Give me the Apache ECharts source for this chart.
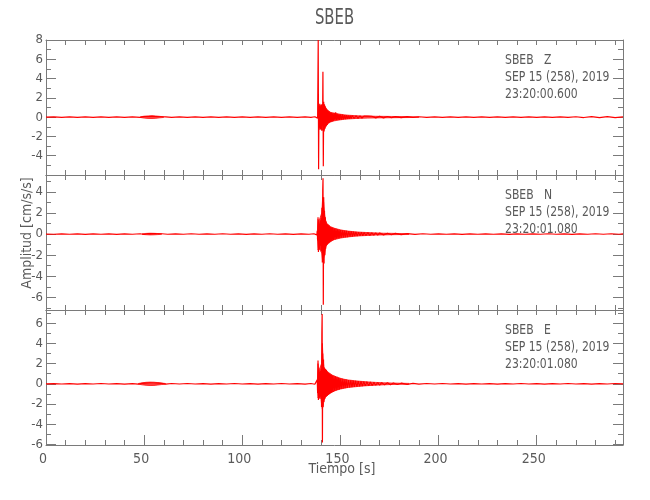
<!DOCTYPE html>
<html>
<head>
<meta charset="utf-8">
<script src="https://cdn.jsdelivr.net/npm/echarts@6/dist/echarts.min.js"></script>
<style>html,body{margin:0;padding:0;background:#fff}#c{width:650px;height:500px}</style>
</head>
<body>
<div id="c"></div>
<script>
// ---- data ----
const chartTitle = 'SBEB';
const stationLabels = ['SBEB   Z', 'SBEB   N', 'SBEB   E'];
const dateLabels = ['SEP 15 (258), 2019', 'SEP 15 (258), 2019', 'SEP 15 (258), 2019'];
const timeLabels = ['23:20:00.600', '23:20:01.080', '23:20:01.080'];
const yName = 'Amplitud [cm/s/s]';
const xName = 'Tiempo [s]';

const xRange = [0, 294];
const xMajorTicks = [0, 50, 100, 150, 200, 250];
const xMinorTicks = [10,20,30,40,60,70,80,90,110,120,130,140,160,170,180,190,210,220,230,240,260,270,280,290];
const xAllTicks = [0,10,20,30,40,50,60,70,80,90,100,110,120,130,140,150,160,170,180,190,200,210,220,230,240,250,260,270,280,290];

const yRanges = [[-6, 8], [-7.2, 5.6], [-6.05, 7.3]];
const yMajorTicks = [[-6,-4,-2,0,2,4,6,8], [-6,-4,-2,0,2,4], [-6,-4,-2,0,2,4,6]];
const yMinorTicks = [[-5,-3,-1,1,3,5,7], [-7,-5,-3,-1,1,3,5], [-5,-3,-1,1,3,5,7]];
const yTickLabels = [[-4,-2,0,2,4,6,8], [-6,-4,-2,0,2,4], [-6,-4,-2,0,2,4,6]];

// trace Z  [time s, amplitude cm/s/s]
const traceZ = [
 [0,0],[4,0.02],[8,-0.02],[12,0.03],[16,-0.02],[20,0.02],[24,-0.03],[28,0.02],[32,-0.02],[36,0.03],[40,-0.02],[44,0.03],
 [48,-0.03],[50,0.05],[51,-0.06],[52,0.06],[53,-0.06],[54,0.07],[55,-0.07],[56,0.06],[57,-0.05],[58,0.04],[59,-0.03],
 [61,0.03],[64,-0.03],[68,0.02],[72,-0.02],[76,0.03],[80,-0.02],[84,0.02],[88,-0.03],[92,0.02],[96,-0.02],[100,0.03],
 [104,-0.02],[108,0.02],[112,-0.03],[116,0.02],[120,-0.02],[124,0.03],[128,-0.02],[132,0.02],[135,-0.03],[137,0.04],[138.4,-0.1],
 [138.7,8.0],[138.9,-5.4],[139.1,1.2],[139.3,-1.0],[139.5,1.4],[139.7,-1.3],[139.9,1.1],[140.1,-1.2],[140.3,1.3],[140.5,-1.4],
 [140.7,1.0],[140.9,-0.9],[141.1,4.7],[141.3,-5.1],[141.5,1.6],[141.7,-1.5],[141.9,1.3],[142.1,-1.2],[142.3,1.1],[142.5,-1.0],
 [142.7,0.9],[142.9,-0.9],[143.1,0.8],[143.3,-0.8],[143.6,0.7],[143.9,-0.6],[144.2,0.6],[144.5,-0.55],[144.8,0.5],[145.1,-0.5],
 [145.4,0.45],[145.7,-0.45],[146,0.4],[146.4,-0.4],[146.8,0.45],[147.2,-0.35],[147.6,0.5],[148,-0.3],[148.4,0.35],[148.8,-0.3],
 [149.2,0.3],[149.6,-0.28],[150,0.3],[150.5,-0.25],[151,0.25],[151.5,-0.22],[152,0.22],[152.5,-0.2],[153,0.2],[153.5,-0.18],
 [154,0.18],[154.5,-0.17],[155,0.16],[155.5,-0.15],[156,0.15],[157,-0.14],[158,0.13],[159,-0.12],[160,0.12],[161,-0.11],
 [162,0.1],[163,-0.1],[164,0.1],[165,-0.09],[166,0.09],[168,-0.08],[170,0.08],[172,-0.07],[174,0.07],[176,-0.06],[178,0.06],
 [181,-0.05],[184,0.05],[187,-0.04],[190,0.04],[194,-0.03],[198,0.02],[202,-0.03],[206,0.02],[210,-0.02],[214,0.03],[218,-0.02],
 [222,0.02],[226,-0.03],[230,0.02],[234,-0.02],[238,0.03],[242,-0.02],[246,0.02],[250,-0.03],[254,0.02],[258,-0.02],[262,0.03],
 [266,-0.03],[270,0.04],[274,-0.04],[278,0.05],[282,-0.05],[286,0.06],[290,-0.05],[294,0.02]
];
// envelopes of the dense parts ('-' separates the small 55 s burst from the main event)
const envZ_t  = [48,50,52,54,56,58,60,100,138.9,139.5,140,140.5,141,141.5,142,142.5,143,143.5,144,145,146,147,148,150,152,154,157,160,164,168,172,176,180,185,190];
const envZ_up = [0.03,0.1,0.13,0.15,0.12,0.08,0.03,'-',1.1,1.3,1.2,1.2,1.3,1.4,1.2,1.0,0.8,0.7,0.6,0.5,0.42,0.4,0.35,0.3,0.24,0.2,0.16,0.13,0.11,0.09,0.08,0.07,0.06,0.05,0.04];
const envZ_lo = [-0.03,-0.1,-0.13,-0.14,-0.12,-0.07,-0.03,'-',-1.0,-1.2,-1.2,-1.3,-1.3,-1.4,-1.2,-1.0,-0.85,-0.7,-0.6,-0.5,-0.42,-0.38,-0.32,-0.28,-0.22,-0.19,-0.15,-0.12,-0.1,-0.08,-0.07,-0.06,-0.05,-0.04,-0.03];

// trace N
const traceN = [
 [0,0],[4,-0.02],[8,0.02],[12,-0.02],[16,0.02],[20,-0.03],[24,0.02],[28,-0.02],[32,0.02],[36,-0.03],[40,0.02],[44,-0.02],
 [48,0.03],[50,-0.04],[52,0.05],[53,-0.05],[54,0.05],[55,-0.05],[56,0.04],[57,-0.04],[59,0.03],
 [62,-0.02],[66,0.02],[70,-0.02],[74,0.03],[78,-0.02],[82,0.02],[86,-0.02],[90,0.03],[94,-0.02],[98,0.02],[102,-0.03],
 [106,0.02],[110,-0.02],[114,0.03],[118,-0.02],[122,0.02],[126,-0.03],[130,0.02],[134,-0.02],[136.5,0.03],[138.0,-0.08],
 [138.2,0.3],[138.4,-0.6],[138.6,1.6],[138.8,-1.7],[139.0,1.2],[139.2,-1.4],[139.4,1.0],[139.6,-1.5],[139.8,1.3],[140.0,-1.1],
 [140.2,1.5],[140.4,-1.6],[140.6,2.5],[140.8,-2.7],[141.0,4.2],[141.15,5.3],[141.3,-6.7],[141.5,3.5],[141.7,-2.8],[141.9,2.2],
 [142.1,-2.0],[142.3,1.6],[142.5,-1.4],[142.7,1.2],[142.9,-1.1],[143.1,1.0],[143.4,-1.0],[143.7,0.9],[144.0,-0.9],[144.3,0.8],
 [144.6,-0.8],[144.9,0.7],[145.2,-0.7],[145.5,0.65],[145.8,-0.6],[146.1,0.6],[146.5,-0.55],[146.9,0.55],[147.3,-0.5],[147.7,0.5],
 [148.1,-0.45],[148.5,0.45],[148.9,-0.4],[149.3,0.4],[149.7,-0.38],[150.1,0.38],[150.6,-0.35],[151.1,0.35],[151.6,-0.32],[152.1,0.32],
 [152.6,-0.3],[153.1,0.3],[153.7,-0.28],[154.3,0.27],[154.9,-0.25],[155.5,0.25],[156.1,-0.23],[156.7,0.22],[157.3,-0.2],[157.9,0.2],
 [158.6,-0.19],[159.3,0.18],[160,-0.17],[160.7,0.17],[161.4,-0.16],[162.1,0.15],[163,-0.14],[164,0.14],[165,-0.13],[166,0.12],
 [167,-0.11],[168,0.11],[169,-0.1],[170,0.1],[172,-0.08],[174,0.08],[176,-0.07],[178,0.06],[181,-0.05],[184,0.04],[188,-0.03],
 [192,0.03],[196,-0.02],[200,0.02],[204,-0.02],[208,0.02],[212,-0.03],[216,0.02],[220,-0.02],[224,0.02],[228,-0.02],[232,0.02],
 [236,-0.03],[240,0.02],[244,-0.02],[248,0.02],[252,-0.02],[256,0.03],[260,-0.02],[264,0.02],[268,-0.03],[272,0.02],[276,-0.02],
 [280,0.03],[284,-0.02],[288,0.03],[292,-0.02],[294,0.01]
];
const envN_t  = [49,51,53,55,57,59,100,138.3,138.6,139,139.5,140,140.5,141,141.5,142,142.5,143,144,145,146,147,148,150,152,154,157,160,164,168,172,176,180,185];
const envN_up = [0.03,0.06,0.08,0.07,0.05,0.02,'-',0.3,1.4,1.2,1.2,1.3,2.0,3.5,3.0,1.8,1.3,1.0,0.85,0.7,0.6,0.55,0.48,0.4,0.33,0.28,0.22,0.18,0.14,0.11,0.08,0.07,0.05,0.04];
const envN_lo = [-0.03,-0.06,-0.08,-0.07,-0.05,-0.02,'-',-0.4,-1.5,-1.3,-1.4,-1.2,-1.8,-2.6,-2.6,-1.9,-1.3,-1.0,-0.85,-0.7,-0.6,-0.52,-0.46,-0.38,-0.32,-0.27,-0.21,-0.17,-0.13,-0.1,-0.08,-0.06,-0.05,-0.04];

// trace E
const traceE = [
 [0,0],[4,0.02],[8,-0.02],[12,0.02],[16,-0.03],[20,0.02],[24,-0.02],[28,0.03],[32,-0.02],[36,0.02],[40,-0.03],[44,0.02],
 [47,-0.03],[49,0.05],[50,-0.06],[51,0.07],[52,-0.08],[53,0.08],[54,-0.08],[55,0.08],[56,-0.07],[57,0.06],[58,-0.05],[59,0.04],
 [61,-0.03],[64,0.03],[68,-0.02],[72,0.03],[76,-0.02],[80,0.02],[84,-0.03],[88,0.02],[92,-0.02],[96,0.03],[100,-0.02],
 [104,0.02],[108,-0.03],[112,0.02],[116,-0.02],[120,0.03],[124,-0.02],[128,0.02],[132,-0.03],[135,0.03],[137,-0.04],[138.0,0.08],
 [138.2,0.4],[138.4,-0.9],[138.6,2.3],[138.8,-1.6],[139.0,1.4],[139.2,-1.3],[139.4,1.2],[139.6,-1.5],[139.8,1.3],[140.0,-1.2],
 [140.2,1.5],[140.4,-2.3],[140.55,5.0],[140.7,6.9],[140.85,-5.8],[141.0,3.0],[141.2,-2.3],[141.4,2.4],[141.6,-1.8],[141.8,1.6],
 [142.0,-1.5],[142.3,1.5],[142.6,-1.3],[142.9,1.4],[143.2,-1.2],[143.5,1.2],[143.8,-1.1],[144.1,1.1],[144.4,-1.0],[144.7,1.0],
 [145,-0.9],[145.3,0.9],[145.6,-0.85],[145.9,0.85],[146.3,-0.8],[146.7,0.8],[147.1,-0.7],[147.5,0.75],[147.9,-0.65],[148.3,0.7],
 [148.7,-0.6],[149.1,0.6],[149.5,-0.55],[149.9,0.55],[150.4,-0.5],[150.9,0.5],[151.4,-0.45],[151.9,0.45],[152.4,-0.42],[152.9,0.42],
 [153.5,-0.4],[154.1,0.38],[154.7,-0.36],[155.3,0.35],[155.9,-0.33],[156.5,0.32],[157.1,-0.3],[157.7,0.3],[158.4,-0.27],[159.1,0.26],
 [159.8,-0.25],[160.5,0.24],[161.2,-0.22],[161.9,0.22],[162.7,-0.2],[163.5,0.2],[164.4,-0.18],[165.3,0.17],[166.2,-0.16],[167.1,0.15],
 [168,-0.14],[169,0.13],[170,-0.12],[171,0.11],[172.5,-0.1],[174,0.1],[175.5,-0.09],[177,0.08],[179,-0.07],[181,0.06],[184,-0.05],
 [187,0.04],[190,-0.03],[194,0.03],[198,-0.02],[202,0.03],[206,-0.02],[210,0.02],[214,-0.03],[218,0.02],[222,-0.02],[226,0.02],
 [230,-0.03],[234,0.02],[238,-0.02],[242,0.03],[246,-0.02],[250,0.02],[254,-0.03],[258,0.02],[262,-0.02],[266,0.03],[270,-0.02],
 [274,0.02],[278,-0.03],[282,0.02],[286,-0.02],[290,0.03],[294,-0.01]
];
const envE_t  = [47,49,51,53,55,57,59,61,100,138.3,138.6,139,139.5,140,140.4,140.8,141.2,141.6,142,142.5,143,144,145,146,147,148,150,152,154,157,160,164,168,172,176,180,185];
const envE_up = [0.03,0.1,0.15,0.17,0.16,0.12,0.07,0.03,'-',0.4,2.0,1.3,1.3,1.3,2.0,4.0,2.4,1.7,1.5,1.4,1.3,1.1,0.95,0.85,0.75,0.68,0.55,0.45,0.38,0.31,0.25,0.19,0.14,0.1,0.08,0.06,0.04];
const envE_lo = [-0.03,-0.1,-0.15,-0.17,-0.16,-0.12,-0.07,-0.03,'-',-0.5,-1.4,-1.2,-1.4,-1.2,-2.0,-2.5,-2.2,-1.7,-1.5,-1.3,-1.2,-1.05,-0.9,-0.8,-0.7,-0.63,-0.52,-0.43,-0.36,-0.3,-0.24,-0.18,-0.13,-0.1,-0.07,-0.05,-0.04];

const traces = [traceZ, traceN, traceE];
const envT = [envZ_t, envN_t, envE_t];
const envUp = [envZ_up, envN_up, envE_up];
const envLo = [envZ_lo, envN_lo, envE_lo];

// ---- styling / layout ----
const FONT = "'Liberation Sans Narrow','DejaVu Sans Condensed','Liberation Sans',sans-serif";
const AX = '#7a7a7a';
const TXT = '#5a5a5a';
const RED = '#ff0000';
const LEFT = 46, RIGHT = 27, TOP = 40, PH = 135;

const grids = [], xAxes = [], yAxes = [], series = [];
const fmt = v => String(v);

for (let i = 0; i < 3; i++) {
  grids.push({ left: LEFT, right: RIGHT, top: TOP + i * PH, height: PH, containLabel: false });
  const xi = xAxes.length, yi = yAxes.length;
  const baseX = { gridIndex: i, type: 'value', min: xRange[0], max: xRange[1], splitLine: { show: false } };
  xAxes.push(Object.assign({}, baseX, {
    position: 'bottom',
    axisLine: { show: true, onZero: false, lineStyle: { color: AX, width: 1 } },
    axisTick: { show: true, inside: true, length: i === 2 ? 10 : 5, customValues: xMajorTicks, lineStyle: { color: AX } },
    axisLabel: { show: i === 2, customValues: xMajorTicks, margin: 7, color: TXT, fontFamily: FONT, fontSize: 14, padding: [0, 6, 0, 0] }
  }));
  xAxes.push(Object.assign({}, baseX, {
    position: 'bottom',
    axisLine: { show: false, onZero: false },
    axisTick: { show: true, inside: true, length: 5, customValues: xMinorTicks, lineStyle: { color: AX } },
    axisLabel: { show: false }
  }));
  xAxes.push(Object.assign({}, baseX, {
    position: 'top',
    axisLine: { show: true, onZero: false, lineStyle: { color: AX, width: 1 } },
    axisTick: { show: true, inside: true, length: 5, customValues: xAllTicks, lineStyle: { color: AX } },
    axisLabel: { show: false }
  }));
  const baseY = { gridIndex: i, type: 'value', min: yRanges[i][0], max: yRanges[i][1], splitLine: { show: false } };
  yAxes.push(Object.assign({}, baseY, {
    position: 'left',
    axisLine: { show: true, onZero: false, lineStyle: { color: AX, width: 1 } },
    axisTick: { show: true, inside: true, length: 10, customValues: yMajorTicks[i], lineStyle: { color: AX } },
    axisLabel: { show: true, customValues: yTickLabels[i], margin: 3, color: TXT, fontFamily: FONT, fontSize: 13, formatter: fmt }
  }));
  yAxes.push(Object.assign({}, baseY, {
    position: 'left',
    axisLine: { show: false, onZero: false },
    axisTick: { show: true, inside: true, length: 5, customValues: yMinorTicks[i], lineStyle: { color: AX } },
    axisLabel: { show: false }
  }));
  yAxes.push(Object.assign({}, baseY, {
    position: 'right',
    axisLine: { show: true, onZero: false, lineStyle: { color: AX, width: 1 } },
    axisTick: { show: true, inside: true, length: 10, customValues: yMajorTicks[i], lineStyle: { color: AX } },
    axisLabel: { show: false }
  }));
  yAxes.push(Object.assign({}, baseY, {
    position: 'right',
    axisLine: { show: false, onZero: false },
    axisTick: { show: true, inside: true, length: 5, customValues: yMinorTicks[i], lineStyle: { color: AX } },
    axisLabel: { show: false }
  }));
  // dense parts: envelope filled towards zero (upper and lower)
  [envUp[i], envLo[i]].forEach(env => {
    series.push({
      type: 'line', xAxisIndex: xi, yAxisIndex: yi,
      data: envT[i].map((t, k) => [t, env[k]]),
      showSymbol: false, symbol: 'none', silent: true, clip: true, connectNulls: false,
      lineStyle: { color: RED, width: 0.8, opacity: 0.9 },
      areaStyle: { color: RED, opacity: 0.75, origin: 'auto' }
    });
  });
  series.push({
    type: 'line', xAxisIndex: xi, yAxisIndex: yi, data: traces[i],
    showSymbol: false, symbol: 'none', clip: true, silent: true,
    lineStyle: { color: RED, width: 1.2 }
  });
}

const txt = (x, y, s, size, align, extra) => Object.assign({
  type: 'text', x: x, y: y,
  style: { text: s, fill: TXT, font: size + 'px ' + FONT, textAlign: align, textVerticalAlign: 'middle' }
}, extra || {});

const graphics = [
  txt(LEFT + (650 - LEFT - RIGHT) / 2, 18, chartTitle, 22, 'center', { scaleX: 0.75 }),
  txt(342, 469, xName, 14, 'center'),
  txt(27, 233, yName, 14, 'center', { rotation: Math.PI / 2 })
];
for (let i = 0; i < 3; i++) {
  [stationLabels[i], dateLabels[i], timeLabels[i]].forEach((s, k) => {
    graphics.push(txt(505, TOP + i * PH + 20 + k * 17, s, 14, 'left', { scaleX: 0.86 }));
  });
}

const chart = echarts.init(document.getElementById('c'), null, { renderer: 'canvas' });
chart.setOption({
  animation: false,
  backgroundColor: '#ffffff',
  grid: grids,
  xAxis: xAxes,
  yAxis: yAxes,
  series: series,
  graphic: graphics
});
</script>
</body>
</html>
